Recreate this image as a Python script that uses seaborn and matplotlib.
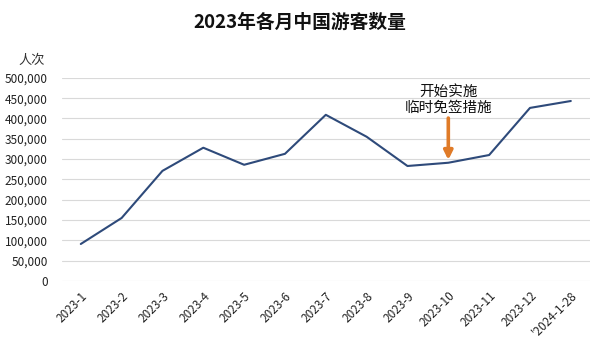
import matplotlib
matplotlib.use("Agg")
import matplotlib.pyplot as plt
import seaborn as sns
import pandas as pd

months = ["2023-1", "2023-2", "2023-3", "2023-4", "2023-5", "2023-6", "2023-7",
          "2023-8", "2023-9", "2023-10", "2023-11", "2023-12", "'2024-1-28"]
visitors = [91000, 155000, 271000, 328000, 286000, 313000, 409000,
            355000, 283000, 291000, 310000, 426000, 443000]
yticks = [0, 50000, 100000, 150000, 200000, 250000, 300000, 350000, 400000, 450000, 500000]
title = "2023年各月中国游客数量"
ylabel = "人次"
note = "开始实施\n临时免签措施"
note_idx = 9

sns.set_theme(style="white")
plt.rcParams['font.family'] = ['Noto Sans CJK SC', 'DejaVu Sans']

df = pd.DataFrame({"x": range(len(months)), "v": visitors})

fig = plt.figure(figsize=(6, 3.46), dpi=100)
ax = fig.add_axes([0.103, 0.188, 0.880, 0.587])
sns.lineplot(data=df, x="x", y="v", ax=ax, color="#2E4A7A", linewidth=1.5)

ax.set_xlim(-0.465, len(months) - 1 + 0.465)
ax.set_ylim(0, 500000)
ax.set_yticks(yticks)
ax.set_yticklabels([f"{t:,}" for t in yticks], fontsize=8.5, color="#222222", fontweight="medium")
ax.set_xticks(range(len(months)))
ax.set_xticklabels(months, rotation=45, ha="right", rotation_mode="anchor", fontsize=8.5,
                   color="#222222", fontweight="medium")
ax.tick_params(axis="x", pad=6, length=0)
ax.tick_params(axis="y", length=0, pad=10)
ax.grid(axis="y", color="#D9D9D9", linewidth=0.8)
ax.set_axisbelow(True)
for s in ax.spines.values():
    s.set_visible(False)
ax.set_xlabel("")
ax.set_ylabel("")

fig.text(0.5, 0.935, title, ha="center", va="center", fontsize=13.5, fontweight="bold", color="#111111")
fig.text(0.052, 0.825, ylabel, ha="center", va="center", fontsize=9.5, color="#333333")

ax.annotate("", xy=(note_idx, 298000), xytext=(note_idx, 401000),
            arrowprops=dict(arrowstyle="-|>", color="#E07B28", lw=2.6, mutation_scale=13,
                            shrinkA=0, shrinkB=0))
ax.text(note_idx, 408000, note, ha="center", va="bottom", fontsize=10.5, color="#111111", linespacing=1.25)

fig.savefig("out.png", dpi=100)
